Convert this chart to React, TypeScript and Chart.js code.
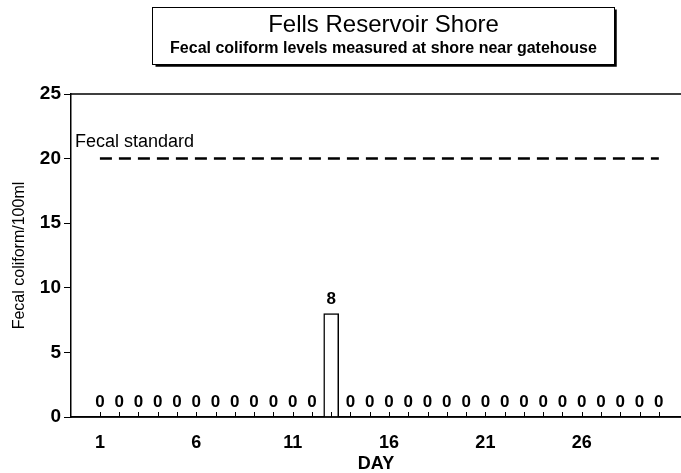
import React, { useEffect, useRef } from "react";
import { Chart, registerables } from "chart.js";

Chart.register(...registerables);

const days = [1, 2, 3, 4, 5, 6, 7, 8, 9, 10, 11, 12, 13, 14, 15, 16, 17, 18, 19, 20, 21, 22, 23, 24, 25, 26, 27, 28, 29, 30];
const coliform = [0, 0, 0, 0, 0, 0, 0, 0, 0, 0, 0, 0, 8, 0, 0, 0, 0, 0, 0, 0, 0, 0, 0, 0, 0, 0, 0, 0, 0, 0];
const fecalStandard = 20;
const xTickLabels = [1, 6, 11, 16, 21, 26];
const yTickValues = [0, 5, 10, 15, 20, 25];
const titleText = "Fells Reservoir Shore";
const subtitleText = "Fecal coliform levels measured at shore near gatehouse";
const yTitle = "Fecal coliform/100ml";
const xTitle = "DAY";
const standardLabel = "Fecal standard";

const FONT = '"Liberation Sans", Arial, sans-serif';

const decorPlugin = {
  id: "decor",
  afterDraw(chart: any) {
    const ctx = chart.ctx;
    const ca = chart.chartArea;
    const x = chart.scales.x;
    const y = chart.scales.y;
    ctx.save();
    ctx.strokeStyle = "#000";
    ctx.lineWidth = 1.5;
    // top border and bottom axis line of plot
    ctx.beginPath();
    ctx.moveTo(ca.left, ca.top);
    ctx.lineTo(ca.right, ca.top);
    ctx.moveTo(ca.left, ca.bottom);
    ctx.lineTo(ca.right, ca.bottom);
    ctx.stroke();
    // inward tick marks
    ctx.lineWidth = 1;
    days.forEach((d) => {
      const px = Math.round(x.getPixelForValue(d)) + 0.5;
      ctx.beginPath();
      ctx.moveTo(px, ca.bottom);
      ctx.lineTo(px, ca.bottom - 5);
      ctx.stroke();
    });
    // value labels
    ctx.fillStyle = "#000";
    ctx.textAlign = "center";
    ctx.textBaseline = "alphabetic";
    ctx.font = `bold 17px ${FONT}`;
    const meta = chart.getDatasetMeta(0);
    meta.data.forEach((bar: any, i: number) => {
      ctx.fillText(String(coliform[i]), bar.x, bar.y - 10);
    });
    // standard label
    ctx.textAlign = "left";
    ctx.textBaseline = "middle";
    ctx.font = `18px ${FONT}`;
    ctx.fillText(standardLabel, ca.left + 4, y.getPixelForValue(fecalStandard) - 17);
    // title box
    const bx = 152.5, by = 7.5, bw = 462, bh = 57;
    ctx.lineWidth = 1;
    ctx.strokeRect(bx, by, bw, bh);
    ctx.lineWidth = 2.5;
    ctx.beginPath();
    ctx.moveTo(bx + bw + 1, by + 2);
    ctx.lineTo(bx + bw + 1, by + bh + 1);
    ctx.lineTo(bx + 3, by + bh + 1);
    ctx.stroke();
    ctx.textAlign = "center";
    ctx.textBaseline = "middle";
    ctx.font = `24px ${FONT}`;
    ctx.fillText(titleText, bx + bw / 2, 25);
    ctx.font = `bold 16px ${FONT}`;
    ctx.fillText(subtitleText, bx + bw / 2, 49);
    ctx.restore();
  },
};

export default function App() {
  const ref = useRef<HTMLCanvasElement>(null);
  useEffect(() => {
    if (!ref.current) return;
    const chart = new Chart(ref.current, {
      type: "bar",
      data: {
        datasets: [
          {
            type: "bar",
            data: days.map((d, i) => ({ x: d, y: coliform[i] })),
            backgroundColor: (c: any) => (coliform[c.dataIndex] ? "#fff" : "rgba(0,0,0,0)"),
            borderColor: "#000",
            borderWidth: (c: any) => (coliform[c.dataIndex] ? 1.5 : 0),
            barThickness: 15,
          } as any,
          {
            type: "line",
            data: [
              { x: days[0], y: fecalStandard },
              { x: days[days.length - 1], y: fecalStandard },
            ],
            borderColor: "#000",
            borderWidth: 2.5,
            borderDash: [12, 7],
            pointRadius: 0,
            fill: false,
          } as any,
        ],
      },
      options: {
        animation: false,
        responsive: false,
        layout: { padding: { top: 94, right: 0, left: 0, bottom: 0 } },
        plugins: { legend: { display: false }, tooltip: { enabled: false } },
        scales: {
          x: {
            type: "linear",
            offset: false,
            min: -0.5,
            max: 31.15,
            afterBuildTicks: (s: any) => {
              s.ticks = xTickLabels.map((v) => ({ value: v }));
            },
            afterFit: (s: any) => {
              s.height = 56;
            },
            ticks: {
              color: "#000",
              font: { family: FONT, size: 18, weight: "bold" },
              padding: 15,
              maxRotation: 0,
              autoSkip: false,
            },
            grid: { display: true, drawOnChartArea: false, drawTicks: false, offset: false },
            border: { display: true, color: "#000", width: 1.5 },
            title: {
              display: true,
              text: xTitle,
              color: "#000",
              font: { family: FONT, size: 18, weight: "bold", lineHeight: 1 },
              padding: { top: 0, bottom: 0 },
            },
          },
          y: {
            min: 0,
            max: 25,
            afterBuildTicks: (s: any) => {
              s.ticks = yTickValues.map((v) => ({ value: v }));
            },
            afterFit: (s: any) => {
              s.width = 71;
            },
            ticks: {
              color: "#000",
              font: { family: FONT, size: 19, weight: "bold" },
              padding: 3,
            },
            grid: { drawOnChartArea: false, drawTicks: true, tickLength: 7, color: "#000" },
            border: { display: true, color: "#000", width: 1.5 },
            title: {
              display: true,
              text: yTitle,
              color: "#000",
              font: { family: FONT, size: 16, lineHeight: 1 },
              padding: { top: 12, bottom: 0 },
            },
          },
        },
      } as any,
      plugins: [decorPlugin],
    });
    return () => chart.destroy();
  }, []);
  return (
    <div style={{ position: "absolute", left: 0, top: 0, background: "#fff" }}>
      <canvas ref={ref} width={681} height={473} style={{ display: "block" }} />
    </div>
  );
}
